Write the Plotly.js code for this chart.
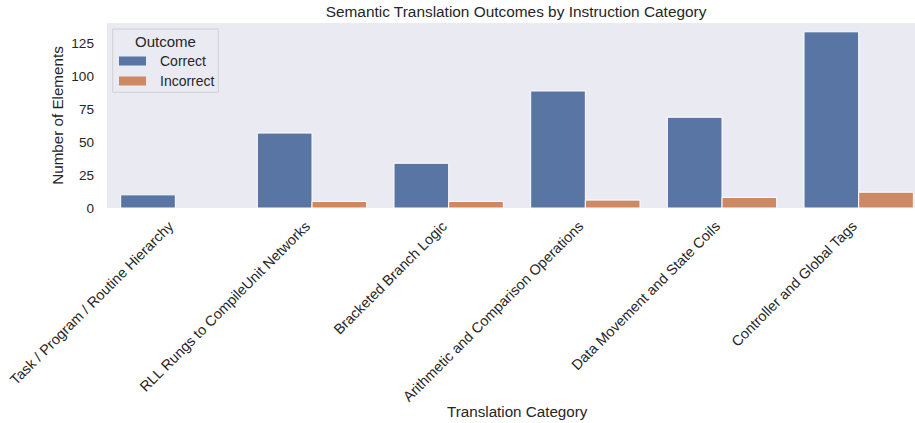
<!DOCTYPE html>
<html>
<head>
<meta charset="utf-8">
<script src="https://cdn.plot.ly/plotly-3.0.1.min.js"></script>
<style>html,body{margin:0;padding:0;background:#fff;}#chart{width:915px;height:423px;}</style>
</head>
<body>
<div id="chart"></div>
<script>
const categories = [
  "Task / Program / Routine Hierarchy",
  "RLL Rungs to CompileUnit Networks",
  "Bracketed Branch Logic",
  "Arithmetic and Comparison Operations",
  "Data Movement and State Coils",
  "Controller and Global Tags"
];
const correctValues = [10, 57, 34, 89, 69, 134];
const incorrectValues = [0, 5, 5, 6, 8, 12];
const seriesNames = ["Correct", "Incorrect"];
const seriesColors = ["#5975a4", "#cc8963"];
const yTickValues = [0, 25, 50, 75, 100, 125];
const legendTitle = "Outcome";

const FONT = '"Liberation Sans", Arial, Helvetica, sans-serif';
const TXT = '#262626';

// plot area in pixels (for placing the hand-drawn legend)
const PL = 107, PR = 915, PT = 23, PB = 208;
const px = v => (v - PL) / (PR - PL);
const py = v => (PB - v) / (PB - PT);

const traces = [correctValues, incorrectValues].map((vals, i) => ({
  type: 'bar', name: seriesNames[i], x: categories, y: vals, showlegend: false,
  marker: {color: seriesColors[i], line: {color: '#ffffff', width: vals.map(v => v === 0 ? 0 : 1)}}
}));

const shapes = [
  {type: 'rect', xref: 'paper', yref: 'paper', x0: px(112.7), x1: px(218.3), y0: py(92.3), y1: py(29),
   fillcolor: 'rgba(234,234,242,0.8)', line: {color: '#d0d0d0', width: 1}, layer: 'above'}
];
const annotations = [
  {text: 'Translation Category', xref: 'x', x: 2.5, yref: 'paper', y: py(411),
   xanchor: 'center', yanchor: 'middle', showarrow: false,
   font: {family: FONT, size: 15.2, color: TXT}},
  {text: legendTitle, xref: 'paper', yref: 'paper', x: px(165.5), y: py(41),
   xanchor: 'center', yanchor: 'middle', showarrow: false,
   font: {family: FONT, size: 15, color: TXT}}
];
seriesNames.forEach((name, i) => {
  const cy = 61 + i * 20;
  shapes.push({type: 'rect', xref: 'paper', yref: 'paper', x0: px(119), x1: px(146),
    y0: py(cy + 4.5), y1: py(cy - 4.5), fillcolor: seriesColors[i], line: {width: 0}, layer: 'above'});
  annotations.push({text: name, xref: 'paper', yref: 'paper', x: px(157.5), y: py(cy),
    xanchor: 'left', yanchor: 'middle', showarrow: false,
    font: {family: FONT, size: 14, color: TXT}});
});

const layout = {
  width: 915, height: 423,
  margin: {l: PL, r: 915 - PR, t: PT, b: 423 - PB, pad: 0},
  paper_bgcolor: '#ffffff',
  plot_bgcolor: '#eaeaf2',
  font: {family: FONT, color: TXT, size: 14},
  barmode: 'group', bargap: 0.2, bargroupgap: 0,
  showlegend: false,
  title: {text: 'Semantic Translation Outcomes by Instruction Category',
          font: {family: FONT, size: 15.4, color: TXT},
          xref: 'container', x: 0.564, xanchor: 'center',
          yref: 'container', y: 1 - 12/423, yanchor: 'middle'},
  xaxis: {type: 'category', range: [-0.5, 5.412], tickangle: -45,
          showgrid: false, zeroline: false, showline: false, ticks: '',
          tickfont: {family: FONT, size: 14.4, color: TXT}, ticklabelstandoff: 6,
          ticklabelshift: -6, automargin: false},
  yaxis: {range: [0, 140.7], tickvals: yTickValues, ticktext: yTickValues.map(String),
          showgrid: false, zeroline: false, showline: false, ticks: '',
          tickfont: {family: FONT, size: 13.6, color: TXT}, ticklabelstandoff: 12,
          title: {text: 'Number of Elements', font: {family: FONT, size: 15.2, color: TXT}, standoff: 3},
          automargin: false},
  shapes: shapes,
  annotations: annotations
};

Plotly.newPlot('chart', traces, layout, {displayModeBar: false, staticPlot: true});
</script>
</body>
</html>
